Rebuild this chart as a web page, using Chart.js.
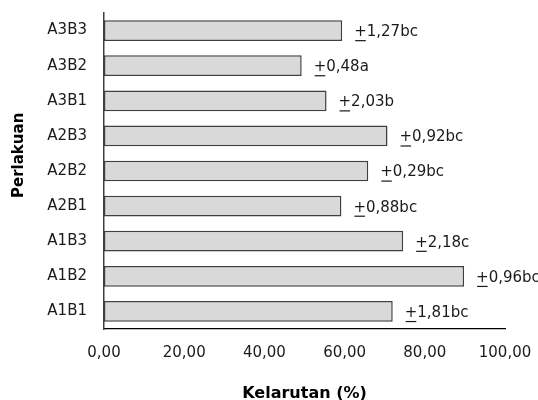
<!DOCTYPE html>
<html>
<head>
<meta charset="utf-8">
<script src="https://cdn.jsdelivr.net/npm/chart.js@4.4.1/dist/chart.umd.min.js"></script>
<style>
  html, body { margin: 0; padding: 0; background: #fff; }
  #wrap { width: 538px; height: 400px; position: relative; }
</style>
</head>
<body>
<div id="wrap"><canvas id="kelarutanChart"></canvas></div>
<script>
// data, top bar first
const categories = ['A3B3', 'A3B2', 'A3B1', 'A2B3', 'A2B2', 'A2B1', 'A1B3', 'A1B2', 'A1B1'];
const kelarutan = [59.4, 49.3, 55.5, 70.7, 65.9, 59.2, 74.6, 89.8, 72.0];
const sdValues = ['1,27', '0,48', '2,03', '0,92', '0,29', '0,88', '2,18', '0,96', '1,81'];
const notasi = ['bc', 'a', 'b', 'bc', 'bc', 'bc', 'c', 'bc', 'bc'];
const xTicks = [0, 20, 40, 60, 80, 100];

Chart.defaults.font.family = '"DejaVu Sans", Verdana, sans-serif';
Chart.defaults.color = '#1a1a1a';

// writes "+" underlined then the sd and letters after each bar
const sdLabelPlugin = {
    id: 'sdLabels',
    afterDatasetsDraw(chart) {
        let ctx = chart.ctx;
        let meta = chart.getDatasetMeta(0);
        ctx.save();
        ctx.font = '15px "DejaVu Sans"';
        ctx.fillStyle = '#1a1a1a';
        ctx.textBaseline = 'middle';
        ctx.textAlign = 'left';
        meta.data.forEach((bar, i) => {
            let x = bar.x + 12;
            let y = bar.y + 1.5;
            let plusW = ctx.measureText('+').width;
            ctx.fillText('+', x, y);
            ctx.fillRect(x + 1, y + 8, plusW - 2, 1.2);
            ctx.fillText(sdValues[i] + notasi[i], x + plusW, y);
        });
        ctx.restore();
    }
};

let ctx = document.getElementById('kelarutanChart').getContext('2d');
let kelarutanChart = new Chart(ctx, {
    type: 'bar',
    data: {
        labels: categories,
        datasets: [{
            label: 'Kelarutan (%)',
            data: kelarutan,
            backgroundColor: '#d9d9d9',
            borderColor: '#3f3f3f',
            borderWidth: 1.5,
            borderSkipped: false,
            barPercentage: 0.59,
            categoryPercentage: 1
        }]
    },
    options: {
        indexAxis: 'y',
        responsive: true,
        maintainAspectRatio: false,
        animation: false,
        layout: {
            padding: { top: 13, right: 33, left: 0, bottom: 0 }
        },
        scales: {
            x: {
                min: 0,
                max: 100,
                afterFit: scale => {
                    scale.height = 71;
                    scale.paddingLeft = 0;
                    scale.paddingRight = 0;
                },
                afterBuildTicks: scale => { scale.ticks = xTicks.map(v => ({ value: v })); },
                grid: { display: false, drawTicks: false },
                border: { display: true, color: '#000', width: 1.2 },
                ticks: {
                    padding: 15,
                    font: { size: 15 },
                    callback: value => value.toFixed(2).replace('.', ',')
                },
                title: {
                    display: true,
                    text: 'Kelarutan (%)',
                    font: { size: 16, weight: 'bold' },
                    color: '#000',
                    padding: { top: 0, bottom: -3 }
                }
            },
            y: {
                afterFit: scale => {
                    scale.width = 104;
                    scale.paddingTop = 0;
                    scale.paddingBottom = 0;
                },
                grid: { display: false, drawTicks: false },
                border: { display: true, color: '#404040', width: 1.5 },
                ticks: {
                    padding: 17,
                    font: { size: 15 }
                },
                title: {
                    display: true,
                    // leading spaces lift the rotated title a little, as in the picture
                    text: '      Perlakuan',
                    font: { size: 15, weight: 'bold' },
                    color: '#000',
                    padding: { top: 10, bottom: 0 }
                }
            }
        },
        plugins: {
            legend: { display: false },
            tooltip: { enabled: false }
        }
    },
    plugins: [sdLabelPlugin]
});
</script>
</body>
</html>
